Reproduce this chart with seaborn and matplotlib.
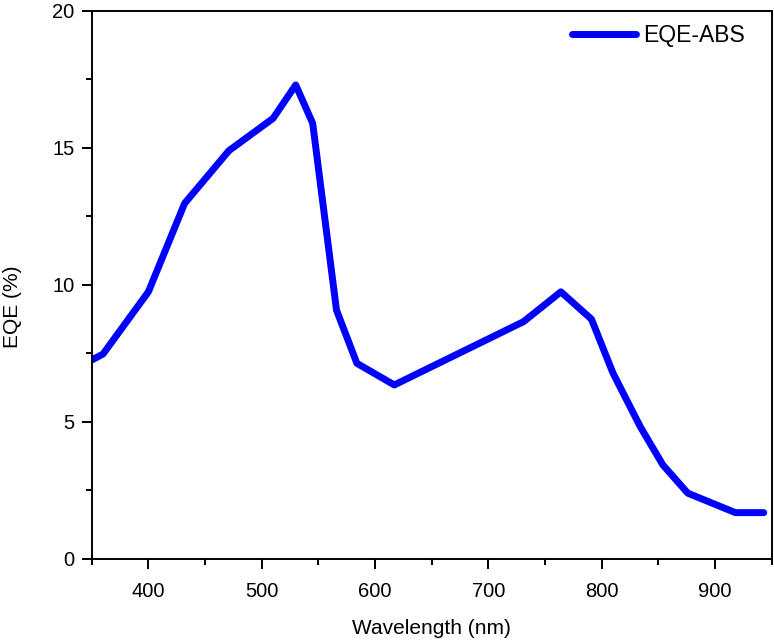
import matplotlib
matplotlib.use("Agg")
import matplotlib.pyplot as plt
import seaborn as sns
import pandas as pd
from matplotlib.ticker import MultipleLocator

wavelength = [350, 360, 400, 432, 471, 510, 530, 545, 566, 584, 617, 731, 764, 791, 810, 834, 854, 876, 918, 943]
eqe = [7.25, 7.47, 9.74, 12.97, 14.89, 16.07, 17.29, 15.89, 9.07, 7.13, 6.34, 8.65, 9.74, 8.74, 6.77, 4.82, 3.42, 2.39, 1.68, 1.68]
series_name = "EQE-ABS"

df = pd.DataFrame({"Wavelength": wavelength, "EQE": eqe, "series": series_name})

sns.set_style("ticks")
plt.rcParams["font.family"] = ["Liberation Sans", "DejaVu Sans"]
plt.rcParams["text.color"] = "black"
plt.rcParams["axes.labelcolor"] = "black"
plt.rcParams["xtick.color"] = "black"
plt.rcParams["ytick.color"] = "black"

fig = plt.figure(figsize=(7.74, 6.42), dpi=100)
ax = fig.add_axes([0.1185, 0.1298, 0.997 - 0.1185, 0.9833 - 0.1298])

sns.lineplot(data=df, x="Wavelength", y="EQE", hue="series", palette=["#0000ff"],
             linewidth=5, sort=False, ax=ax, legend=True)
for ln in ax.get_lines():
    ln.set_solid_capstyle("round")
    ln.set_solid_joinstyle("round")

ax.set_xlim(350, 950)
ax.set_ylim(0, 20)
ax.xaxis.set_major_locator(MultipleLocator(100))
ax.xaxis.set_minor_locator(MultipleLocator(50))
ax.yaxis.set_major_locator(MultipleLocator(5))
ax.yaxis.set_minor_locator(MultipleLocator(2.5))
ax.set_xticks([400, 500, 600, 700, 800, 900])

ax.tick_params(axis="both", which="major", direction="out", length=7.5, width=1.4,
               labelsize=14.5, color="black", labelcolor="black")
ax.tick_params(axis="x", which="major", pad=9.5)
ax.tick_params(axis="y", which="major", pad=5)
ax.tick_params(axis="both", which="minor", direction="out", length=4, width=1.4, color="black")

for sp in ax.spines.values():
    sp.set_visible(True)
    sp.set_linewidth(1.4)
    sp.set_color("black")

ax.set_xlabel("Wavelength (nm)", fontsize=15, labelpad=13)
ax.set_ylabel("EQE (%)", fontsize=15)
ax.yaxis.set_label_coords(-0.102, 0.46)

leg = ax.legend(loc="upper left", bbox_to_anchor=(0.706, 0.975), frameon=False,
                fontsize=16.5, handlelength=2.8, handletextpad=0.3,
                borderaxespad=0, borderpad=0)
for h in leg.get_lines():
    h.set_linewidth(5)
    h.set_solid_capstyle("round")

fig.savefig("out.png", dpi=100)
